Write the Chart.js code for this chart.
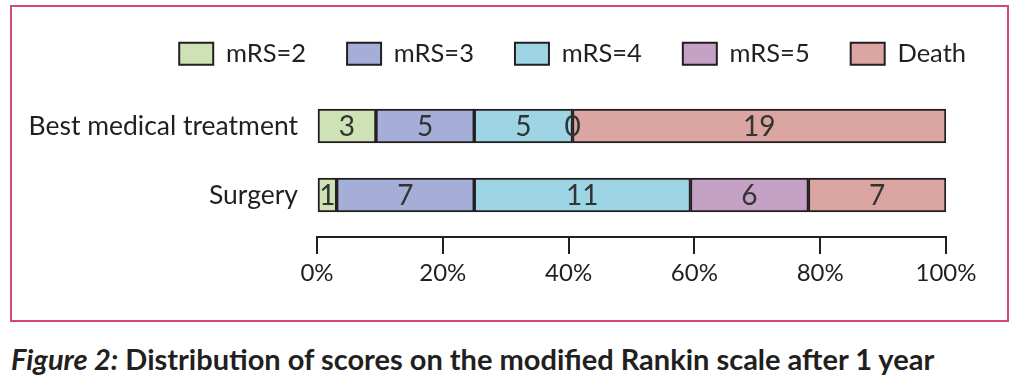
<!DOCTYPE html>
<html>
<head>
<meta charset="utf-8">
<script src="https://cdn.jsdelivr.net/npm/chart.js@4.4.1/dist/chart.umd.min.js"></script>
<style>
  html, body { margin: 0; padding: 0; background: #fff; overflow: hidden; }
  #frame { position: absolute; left: 10px; top: 5px; width: 995px; height: 313px; border: 2px solid #d1487a; }
  #wrap { position: absolute; left: 0; top: 0; width: 1018px; height: 300px; }
  #caption { position: absolute; left: 11px; top: 341px; font: bold 29px Lato, sans-serif; line-height: 36px; color: #231f20; white-space: nowrap; }
</style>
</head>
<body>
<div id="frame"></div>
<div id="wrap"><canvas id="chart"></canvas></div>
<div id="caption"><i>Figure 2:</i> Distribution of scores on the modified Rankin scale after 1 year</div>
<script>
// rows and series (patient counts per mRS score)
const categories = ["Best medical treatment", "Surgery"];
const seriesNames = ["mRS=2", "mRS=3", "mRS=4", "mRS=5", "Death"];
const mrs2 = [3, 1];
const mrs3 = [5, 7];
const mrs4 = [5, 11];
const mrs5 = [0, 6];
const death = [19, 7];
const xTicks = [0, 20, 40, 60, 80, 100]; // percent

const seriesCounts = [mrs2, mrs3, mrs4, mrs5, death];
const colours = ["#cfe2b5", "#a4aed6", "#9ed5e4", "#c6a1c6", "#dba5a2"];
const ink = "#231f20";

// each row is shown as share of its total
const rowTotals = categories.map((_, i) =>
	seriesCounts.reduce((sum, s) => sum + s[i], 0)
);

const datasets = seriesNames.map((name, k) => ({
	label: name,
	counts: seriesCounts[k],
	data: seriesCounts[k].map((v, i) => (v / rowTotals[i]) * 100),
	backgroundColor: colours[k],
	borderColor: ink,
	borderWidth: 2,
	borderSkipped: false,
	barThickness: 34,
	xAxisID: "x",
	yAxisID: "y",
}));

// writes the count in the middle of each segment
const countLabels = {
	id: "countLabels",
	afterDatasetsDraw(chart) {
		const ctx = chart.ctx;
		ctx.save();
		ctx.font = "28px Lato";
		ctx.fillStyle = "#333";
		ctx.textAlign = "center";
		ctx.textBaseline = "middle";
		chart.data.datasets.forEach((ds, i) => {
			chart.getDatasetMeta(i).data.forEach((bar, j) => {
				const p = bar.getProps(["x", "y", "base"], true);
				ctx.fillText(ds.counts[j], (p.x + p.base) / 2, p.y + 1);
			});
		});
		ctx.restore();
	},
};

// empty axes used only as spacers
function spacer(position, size) {
	return {
		type: "linear",
		position: position,
		display: true,
		weight: 0,
		grid: { display: false, drawTicks: false },
		border: { display: false },
		ticks: { display: false },
		afterFit: (s) => {
			if (position === "left" || position === "right") s.width = size;
			else s.height = size;
		},
	};
}

new Chart(document.getElementById("chart"), {
	type: "bar",
	data: { labels: categories, datasets: datasets },
	plugins: [countLabels],
	options: {
		indexAxis: "y",
		responsive: true,
		maintainAspectRatio: false,
		animation: false,
		layout: { padding: { left: 0, right: 11, top: 0, bottom: 7.2 } },
		plugins: {
			legend: {
				position: "top",
				align: "end",
				labels: {
					boxWidth: 34,
					boxHeight: 22,
					padding: 41,
					color: ink,
					font: { family: "Lato", size: 25.5 },
				},
			},
			tooltip: { enabled: false },
		},
		scales: {
			x: {
				stacked: true,
				min: xTicks[0],
				max: xTicks[xTicks.length - 1],
				position: "bottom",
				weight: 1,
				border: { display: true, color: ink, width: 2 },
				grid: { drawOnChartArea: false, drawTicks: true, tickLength: 17, color: ink, lineWidth: 2 },
				afterBuildTicks: (s) => { s.ticks = xTicks.map((v) => ({ value: v })); },
				ticks: {
					padding: 5,
					color: ink,
					font: { family: "Lato", size: 24 },
					callback: (v) => v + "%",
				},
			},
			y: {
				stacked: true,
				grid: { display: false, drawTicks: false },
				border: { display: false },
				ticks: { padding: 19, color: ink, font: { family: "Lato", size: 26.5 } },
				afterFit: (s) => { s.width = 317; },
			},
			xTop: spacer("top", 15),
			xGap: spacer("bottom", 7.5),
			yRight: spacer("right", 61),
		},
	},
});
</script>
</body>
</html>
